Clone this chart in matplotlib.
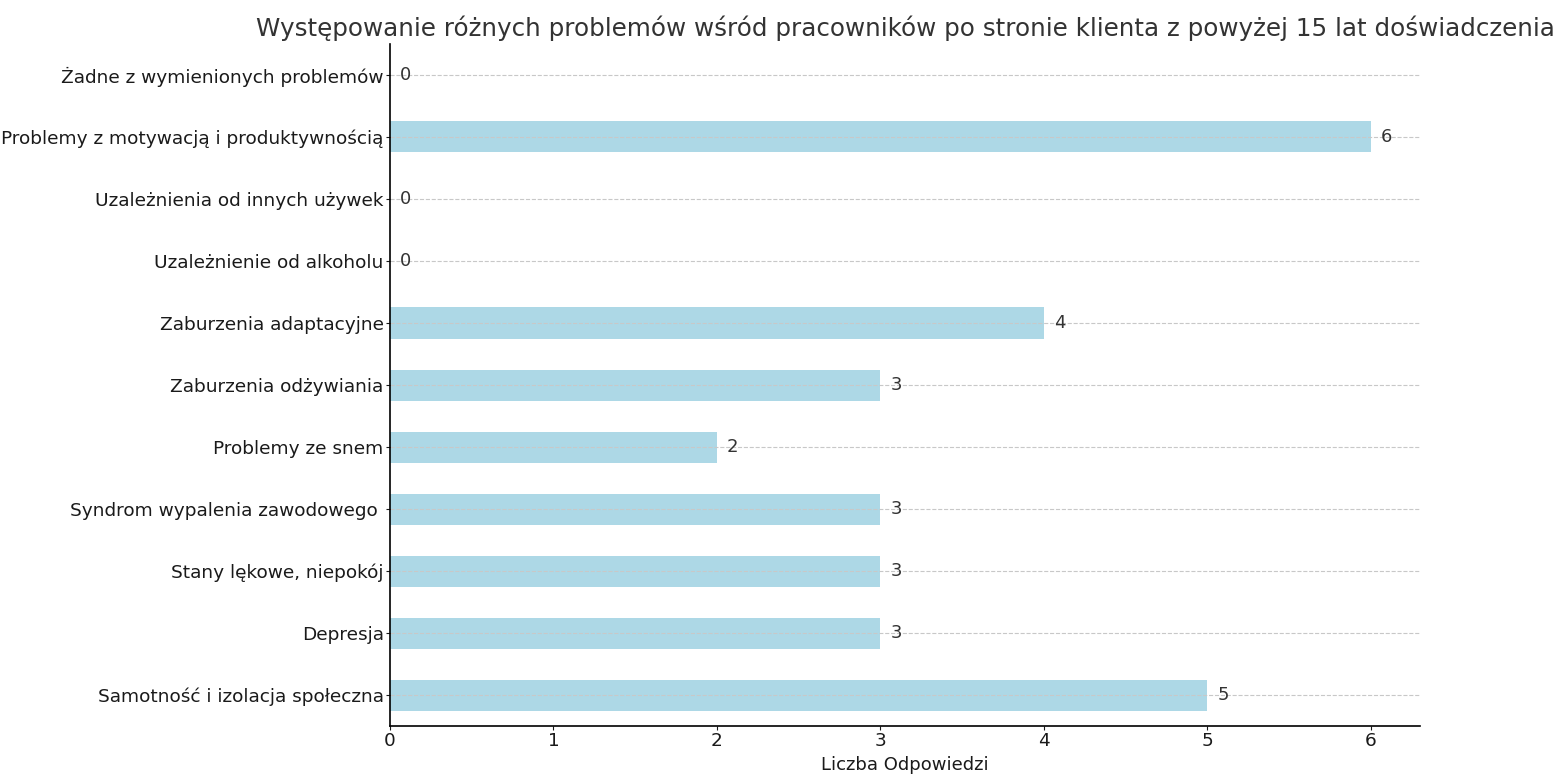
import matplotlib
matplotlib.use("Agg")
import matplotlib.pyplot as plt

categories = [
    "Samotność i izolacja społeczna",
    "Depresja",
    "Stany lękowe, niepokój",
    "Syndrom wypalenia zawodowego ",
    "Problemy ze snem",
    "Zaburzenia odżywiania",
    "Zaburzenia adaptacyjne",
    "Uzależnienie od alkoholu",
    "Uzależnienia od innych używek",
    "Problemy z motywacją i produktywnością",
    "Żadne z wymienionych problemów",
]
counts = [5, 3, 3, 3, 2, 3, 4, 0, 0, 6, 0]

fig = plt.figure(figsize=(15.55, 7.77), dpi=100)
ax = fig.add_axes([0.2508, 0.0656, 0.6624, 0.8778])

ax.barh(categories, counts, height=0.5, color="lightblue")
for i, v in enumerate(counts):
    ax.text(v + 0.06, i, str(v), va="center", ha="left", fontsize=13, color="#333333")

ax.set_xlim(0, 6.3)
ax.set_ylim(-0.5, 10.5)
ax.set_title("Występowanie różnych problemów wśród pracowników po stronie klienta z powyżej 15 lat doświadczenia",
             fontsize=17.7, color="#333333", pad=6)
ax.set_xlabel("Liczba Odpowiedzi", fontsize=13, color="#1a1a1a", labelpad=4)
ax.tick_params(axis="both", labelsize=13.3, colors="#1a1a1a", pad=1.5, length=3)
ax.grid(axis="y", linestyle="--", color="#c8c8c8", linewidth=0.8)
ax.spines["top"].set_visible(False)
ax.spines["right"].set_visible(False)
ax.spines["left"].set_linewidth(1.2)
ax.spines["bottom"].set_linewidth(1.2)

fig.savefig("out.png", dpi=100)
